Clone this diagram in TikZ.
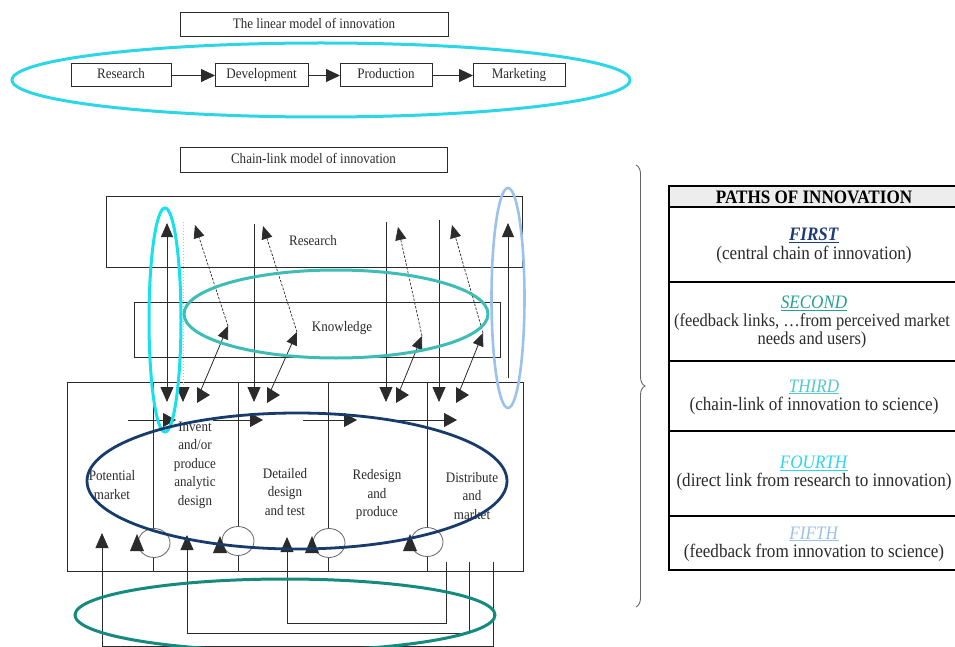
\documentclass[tikz,border=0pt]{standalone}
\usepackage{fontspec}
\setmainfont{Liberation Serif}[FakeStretch=0.9]
\usetikzlibrary{arrows.meta,decorations.pathreplacing}
\definecolor{inkc}{HTML}{2B2B2B}
\definecolor{lincyan}{HTML}{2DD6E6}
\definecolor{firstc}{HTML}{173C6C}
\definecolor{secondc}{HTML}{178A80}
\definecolor{thirdc}{HTML}{3DBDB5}
\definecolor{fourthc}{HTML}{18E0EC}
\definecolor{fifthc}{HTML}{9CC2EC}
\definecolor{tfirst}{HTML}{1F3B73}
\definecolor{tsecond}{HTML}{22A096}
\definecolor{tthird}{HTML}{55C8CC}
\definecolor{tfourth}{HTML}{2AD6EE}
\definecolor{tfifth}{HTML}{9CC0EA}
\definecolor{headfill}{HTML}{EDEDED}
\definecolor{circc}{HTML}{666666}
\begin{document}
\begin{tikzpicture}[x=1pt,y=-1pt,
  every node/.style={inner sep=0pt, outer sep=0pt, text=inkc},
  boxx/.style={draw=inkc, line width=1pt, rectangle},
  lbox/.style={boxx, minimum height=23pt, text height=10pt, text depth=3pt},
  dfont/.style={font=\fontsize{14.5}{18.5}\selectfont},
  tfont/.style={font=\fontsize{19}{18.5}\selectfont},
  wire/.style={draw=inkc, line width=0.8pt},
  bigtip/.style={-{Triangle[length=14pt,width=13pt]}},
  uptip/.style={-{Triangle[length=14pt,width=12pt]}},
  downtip/.style={-{Triangle[length=15pt,width=13pt,color=inkc]}},
  bothtip/.style={{Triangle[length=15pt,width=13pt]}-{Triangle[length=14pt,width=12pt]}},
  diagtip/.style={-{Triangle[length=13pt,width=11pt]}},
  dashedwire/.style={draw=inkc, line width=0.7pt, dash pattern=on 2.5pt off 1.5pt},
  ringc/.style={draw=circc, line width=0.8pt},
]
\useasboundingbox (0,0) rectangle (955,647);
\fill[white] (0,0) rectangle (955,647);

% ---------- linear model ----------
\node[boxx, minimum width=268pt, minimum height=24pt, text height=10pt, text depth=3pt, dfont] (lintitle) at (314,25) {The linear model of innovation};
\node[lbox, minimum width=100pt, dfont] (lr) at (121,75.5) {Research};
\node[lbox, minimum width=93pt, dfont] (ld) at (261.5,75.5) {Development};
\node[lbox, minimum width=92pt, dfont] (lp) at (386,75.5) {Production};
\node[lbox, minimum width=92pt, dfont] (lm) at (519,75.5) {Marketing};
\draw[wire, line width=1pt, bigtip] (lr) -- (ld);
\draw[wire, line width=1pt, bigtip] (ld) -- (lp);
\draw[wire, line width=1pt, bigtip] (lp) -- (lm);

% ---------- chain-link model ----------
\node[boxx, minimum width=267pt, minimum height=25pt, text height=10pt, text depth=3pt, dfont] (ctitle) at (313.5,160.5) {Chain-link model of innovation};
\node[boxx, minimum width=416pt, minimum height=70pt] (resbox) at (314,232) {};
\node[dfont] (reslbl) at (313,241) {Research};
\node[boxx, minimum width=366pt, minimum height=55pt] (knbox) at (317,329.5) {};
\node[dfont] (knlbl) at (342,328) {Knowledge};
\node[boxx, minimum width=456pt, minimum height=189pt] (stbox) at (295,476.5) {};

% stage texts
\node[dfont, align=center] (s1) at (112,485) {Potential\\market};
\node[dfont, align=center] (s2) at (195,465) {Invent\\and/or\\produce\\analytic\\design};
\node[dfont, align=center] (s3) at (285,492) {Detailed\\design\\and test};
\node[dfont, align=center] (s4) at (377,495) {Redesign\\and\\produce};
\node[dfont, align=center] (s5) at (472,496) {Distribute\\and\\market};

% dividers with feedback rings
\draw[wire] (153,382) -- (153,528.5);
\draw[wire] (153,557.5) -- (153,571);
\draw[wire] (238,382) -- (238,526.5);
\draw[wire] (238,555.5) -- (238,571);
\draw[wire] (328,382) -- (328,528.5);
\draw[wire] (328,557.5) -- (328,571);
\draw[wire] (427,382) -- (427,527.5);
\draw[wire] (427,556.5) -- (427,571);
\draw[ringc] (154,543) ellipse [x radius=16pt, y radius=14.5pt];
\draw[ringc] (238,541) ellipse [x radius=16pt, y radius=14.5pt];
\draw[ringc] (329,543) ellipse [x radius=16pt, y radius=14.5pt];
\draw[ringc] (427,542) ellipse [x radius=16pt, y radius=14.5pt];
\coordinate (f1) at (137,543);
\coordinate (f2) at (220,545);
\coordinate (f3) at (312,545);
\coordinate (f4) at (410,543);
\foreach \c in {f1,f2,f3,f4}
  \fill[inkc] (\c) ++(-7,8) -- ++(14,0) -- ++(-7,-17) -- cycle;

% central chain arrows
\coordinate (h1a) at (128,420); \coordinate (h1b) at (176,420);
\coordinate (h2a) at (213,420); \coordinate (h2b) at (263,420);
\coordinate (h3a) at (303,420); \coordinate (h3b) at (357,420);
\coordinate (h4a) at (398,420); \coordinate (h4b) at (457,420);
\draw[wire, -{Triangle[length=13pt,width=14pt]}] (h1a) -- (h1b);
\draw[wire, -{Triangle[length=13pt,width=14pt]}] (h2a) -- (h2b);
\draw[wire, -{Triangle[length=13pt,width=14pt]}] (h3a) -- (h3b);
\draw[wire, -{Triangle[length=13pt,width=14pt]}] (h4a) -- (h4b);

% vertical links research <-> stages
\coordinate (v1t) at (167,223); \coordinate (v1b) at (167,402);
\draw[wire, bothtip] (v1b) -- (v1t);
\coordinate (v2t) at (183,222); \coordinate (v2b) at (183,402);
\draw[draw=gray!50, line width=0.9pt, dotted, downtip] (v2t) -- (v2b);
\coordinate (v3t) at (254,224); \coordinate (v3b) at (254,402);
\draw[wire, downtip] (v3t) -- (v3b);
\coordinate (v4t) at (386,222); \coordinate (v4b) at (386,402);
\draw[wire, downtip] (v4t) -- (v4b);
\coordinate (v5t) at (439,220); \coordinate (v5b) at (439,402);
\draw[wire, downtip] (v5t) -- (v5b);
\coordinate (v6b) at (508,378); \coordinate (v6t) at (508,223);
\draw[wire, uptip] (v6b) -- (v6t);

% knowledge -> research (dashed)
\coordinate (k1) at (228,326); \coordinate (r1) at (195,225);
\coordinate (k2) at (297,332); \coordinate (r2) at (263,226);
\coordinate (k3) at (422,336); \coordinate (r3) at (398,227);
\coordinate (k4) at (483,333); \coordinate (r4) at (452,225);
\draw[dashedwire, diagtip] (k1) -- (r1);
\draw[dashedwire, diagtip] (k2) -- (r2);
\draw[dashedwire, diagtip] (k3) -- (r3);
\draw[dashedwire, diagtip] (k4) -- (r4);

% stages -> knowledge
\coordinate (p1) at (201,390); \coordinate (p2) at (271,390);
\coordinate (p3) at (400,390); \coordinate (p4) at (460,390);
\draw[wire, diagtip] (p1) -- (k1);
\draw[wire, diagtip] (p2) -- (k2);
\draw[wire, diagtip] (p3) -- (k3);
\draw[wire, diagtip] (p4) -- (k4);
\coordinate (t1) at (203,395); \coordinate (t2) at (273,395);
\coordinate (t3) at (402,395); \coordinate (t4) at (462,395);
\foreach \c in {t1,t2,t3,t4}
  \fill[inkc] (\c) ++(-6,-8) -- ++(0,16) -- ++(13,-8) -- cycle;

% market feedback loops at the bottom
\coordinate (o1) at (493,562); \coordinate (o2) at (102,533);
\coordinate (m1) at (469,562); \coordinate (m2) at (187,535);
\coordinate (n1) at (446,562); \coordinate (n2) at (287,537);
\draw[wire, -{Triangle[length=15pt,width=13pt]}] (o1) |- (102,646) -- (o2);
\draw[wire, -{Triangle[length=15pt,width=13pt]}] (m1) |- (187,633) -- (m2);
\draw[wire, -{Triangle[length=15pt,width=13pt]}] (n1) |- (287,623) -- (n2);

% highlight ellipses
\draw[lincyan, line width=3pt] (321,80) ellipse [x radius=309pt, y radius=37pt];
\draw[thirdc, line width=3pt] (336,314) ellipse [x radius=152pt, y radius=44pt];
\draw[fourthc, line width=3pt] (165,320) ellipse [x radius=16pt, y radius=112pt];
\draw[fifthc, line width=2.6pt] (508,298) ellipse [x radius=16.5pt, y radius=110pt];
\draw[firstc, line width=2.8pt] (297,481) ellipse [x radius=210pt, y radius=68pt];
\draw[secondc, line width=3pt] (285,615) ellipse [x radius=210pt, y radius=36pt];

% brace
\coordinate (bt) at (636,165); \coordinate (bb) at (636,607);
\draw[draw=gray!80!black, line width=0.9pt, decorate, decoration={brace, amplitude=9pt}] (bt) -- (bb);

% ---------- table ----------
\fill[headfill] (669,186) rectangle (959,207);
\draw[black, line width=2pt] (669,186) rectangle (959,570);
\foreach \yy in {207,282,361,431,516}
  \draw[black, line width=1.8pt] (669,\yy) -- (959,\yy);
\node[tfont, text=black] (thead) at (814,197) {\textbf{PATHS OF INNOVATION}};
\node[tfont, text=tfirst] (tf1) at (814,235) {\underline{\textbf{\textit{FIRST}}}};
\node[tfont] (tf2) at (814,255) {(central chain of innovation)};
\node[tfont, text=tsecond] (ts1) at (814,303) {\underline{\textit{SECOND}}};
\node[font=\fontsize{18.3}{18.5}\selectfont, align=center] (ts2) at (812,331) {(feedback links, …from perceived market\\needs and users)};
\node[tfont, text=tthird] (tt1) at (814,387) {\underline{\textit{THIRD}}};
\node[tfont] (tt2) at (814,406) {(chain-link of innovation to science)};
\node[tfont, text=tfourth] (tq1) at (814,463) {\underline{\textit{FOURTH}}};
\node[tfont] (tq2) at (814,482) {(direct link from research to innovation)};
\node[tfont, text=tfifth] (tv1) at (814,534) {\underline{\textit{FIFTH}}};
\node[tfont] (tv2) at (814,553) {(feedback from innovation to science)};
\end{tikzpicture}
\end{document}
